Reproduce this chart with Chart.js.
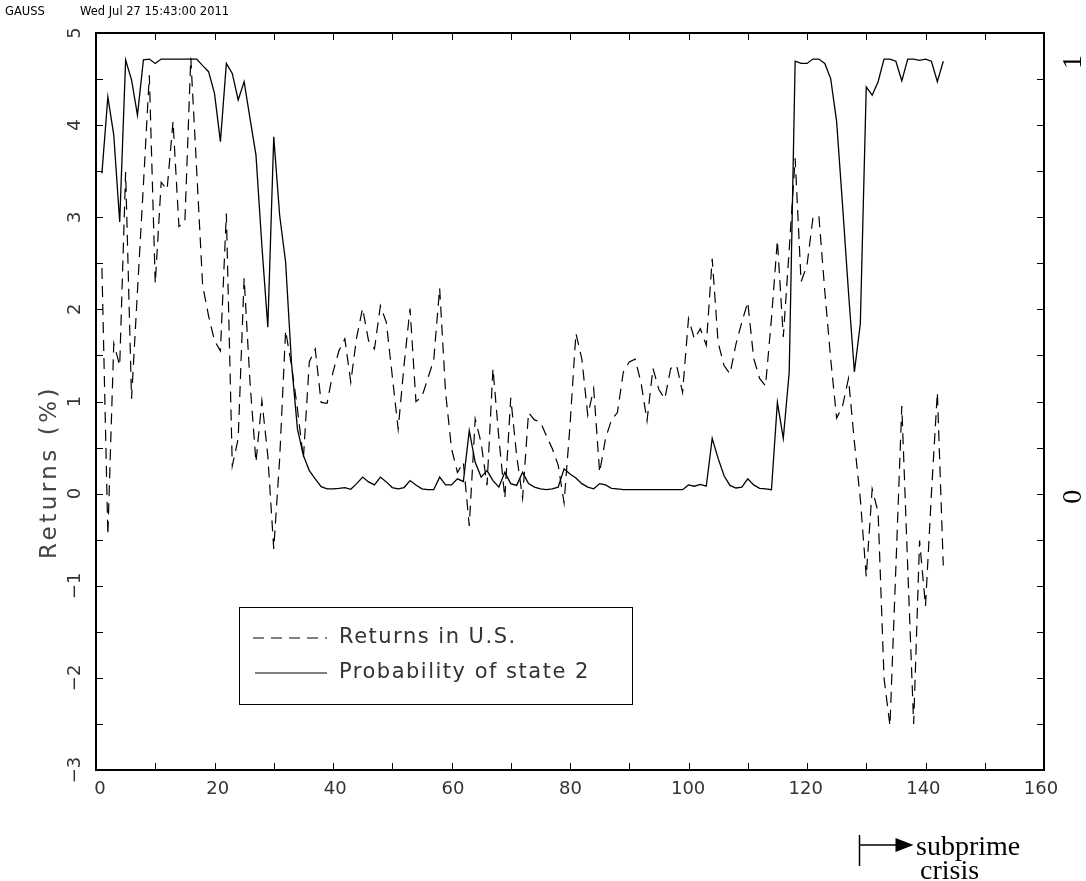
<!DOCTYPE html>
<html><head><meta charset="utf-8">
<script src="https://cdn.jsdelivr.net/npm/chart.js@4.4.1/dist/chart.umd.min.js"></script>
<style>html,body{margin:0;padding:0;background:#fff;}#wrap{position:relative;width:1086px;height:881px;}canvas{display:block;}</style>
</head><body><div id="wrap"><canvas id="c" width="1086" height="881"></canvas></div>
<script>
// ---- data ----
const returnsUS = [
 2.45,-0.45,1.63,1.39,3.49,1.03,2.2,3.35,4.54,2.28,
 3.38,3.3,4.04,2.9,2.95,4.73,3.5,2.26,1.93,1.66,
 1.55,3.04,0.3,0.6,2.34,1.2,0.34,1.01,0.41,-0.6,
 0.38,1.77,1.39,0.92,0.38,1.43,1.57,0.99,0.98,1.32,
 1.55,1.68,1.21,1.7,2.01,1.66,1.57,2.04,1.86,1.28,
 0.7,1.4,2.01,1.0,1.05,1.25,1.45,2.23,1.1,0.49,
 0.23,0.34,-0.35,0.81,0.55,0.09,1.36,0.6,-0.05,1.04,
 0.41,-0.05,0.88,0.8,0.78,0.63,0.49,0.31,-0.1,0.74,
 1.74,1.46,0.85,1.14,0.23,0.6,0.8,0.88,1.32,1.43,
 1.46,1.2,0.79,1.36,1.13,1.03,1.36,1.39,1.1,1.9,
 1.68,1.79,1.61,2.55,1.64,1.39,1.3,1.62,1.86,2.08,
 1.47,1.25,1.17,1.9,2.75,1.7,2.65,3.64,2.3,2.48,
 2.99,3.02,2.2,1.46,0.82,0.95,1.25,0.56,-0.06,-0.9,
 0.05,-0.2,-2.0,-2.52,-0.8,0.95,-0.8,-2.5,-0.51,-1.22,
 0.0,1.1,-0.78
];
const probState2 = [
 .737,.913,.825,.625,.998,.952,.871,.998,1,.99,
 1,1,1,1,1,1,1,.985,.971,.921,
 .81,.99,.967,.906,.948,.863,.779,.57,.383,.821,
 .64,.533,.3,.149,.088,.053,.034,.016,.011,.011,
 .012,.014,.01,.023,.038,.027,.02,.038,.027,.014,
 .011,.014,.03,.02,.011,.009,.009,.038,.02,.02,
 .034,.028,.145,.072,.038,.053,.03,.015,.049,.023,
 .019,.049,.023,.015,.011,.009,.011,.015,.057,.045,
 .036,.023,.015,.011,.023,.02,.012,.011,.009,.009,
 .009,.009,.009,.009,.009,.009,.009,.009,.009,.02,
 .017,.021,.017,.127,.081,.041,.019,.013,.015,.034,
 .02,.012,.011,.009,.21,.127,.28,.995,.99,.99,
 1,1,.99,.955,.856,.664,.464,.28,.391,.936,
 .917,.948,1,1,.995,.95,1,1,.997,1,
 .995,.948,.995
];
const xTicks = [0,20,40,60,80,100,120,140,160];
const yTicks = [-3,-2,-1,0,1,2,3,4,5];
const probTicks = [0,1];
const seriesNames = ['Returns in U.S.', 'Probability of state 2'];
const yTitle = 'Returns (%)';
const headerText = ['GAUSS', 'Wed Jul 27 15:43:00 2011'];
const noteText = ['subprime', 'crisis'];
const crisisStart = 128.7;

// probability 1 sits at this height of the returns axis
const probTop = 4.717;

const decor = {
  id: 'decor',
  afterDatasetsDraw(chart) {
    const ctx = chart.ctx;
    const a = chart.chartArea;
    const xs = chart.scales.x, ys = chart.scales.y, y2 = chart.scales.y2;
    ctx.save();
    ctx.strokeStyle = '#000';
    ctx.fillStyle = '#000';
    // frame
    ctx.lineWidth = 2;
    ctx.strokeRect(a.left, a.top, a.right - a.left, a.bottom - a.top);
    // ticks
    ctx.lineWidth = 1;
    ctx.beginPath();
    for (let v = -3; v <= 5.001; v += 0.5) {
      const y = Math.round(ys.getPixelForValue(v)) + 0.5;
      ctx.moveTo(a.left, y); ctx.lineTo(a.left + 7, y);
      ctx.moveTo(a.right, y); ctx.lineTo(a.right - 7, y);
    }
    for (let v = 10; v < 160; v += 10) {
      const x = Math.round(xs.getPixelForValue(v)) + 0.5;
      ctx.moveTo(x, a.top); ctx.lineTo(x, a.top + 7);
      ctx.moveTo(x, a.bottom); ctx.lineTo(x, a.bottom - 7);
    }
    ctx.stroke();

    // x tick labels (GAUSS places them slightly inward of the tick)
    ctx.fillStyle = '#333';
    ctx.font = '18px "DejaVu Sans"';
    ctx.textAlign = 'center';
    ctx.textBaseline = 'middle';
    xTicks.forEach(v => ctx.fillText(String(v), xs.getPixelForValue(v) + 4 - 7 * v / 160, a.bottom + 19));
    // y tick labels (rotated)
    yTicks.forEach(v => {
      ctx.save();
      ctx.translate(a.left - 21, ys.getPixelForValue(v));
      ctx.rotate(-Math.PI / 2);
      ctx.fillText(v < 0 ? '\u2212' + Math.abs(v) : String(v), 0, 0);
      ctx.restore();
    });
    // y title
    ctx.save();
    ctx.font = '23px "DejaVu Sans"';
    ctx.fillStyle = '#444';
    try { ctx.letterSpacing = '3.5px'; } catch (e) {}
    ctx.translate(50, 472);
    ctx.rotate(-Math.PI / 2);
    ctx.fillText(yTitle, 0, 0);
    ctx.restore();
    // right axis labels (serif, rotated)
    ctx.fillStyle = '#000';
    ctx.font = '28px "Liberation Serif"';
    probTicks.forEach(v => {
      ctx.save();
      ctx.translate(a.right + 30, y2.getPixelForValue(v) + 3);
      ctx.rotate(-Math.PI / 2);
      ctx.fillText(String(v), 0, 0);
      ctx.restore();
    });

    // legend box
    const lx = 239, ly = 607, lw = 393, lh = 97;
    ctx.lineWidth = 1;
    ctx.strokeStyle = '#000';
    ctx.strokeRect(lx + 0.5, ly + 0.5, lw, lh);
    ctx.beginPath();
    ctx.setLineDash([11, 7]);
    ctx.moveTo(253, 638); ctx.lineTo(327, 638);
    ctx.stroke();
    ctx.setLineDash([]);
    ctx.beginPath();
    ctx.moveTo(255, 673); ctx.lineTo(327, 673);
    ctx.stroke();
    ctx.save();
    ctx.fillStyle = '#333';
    ctx.font = '21px "DejaVu Sans"';
    try { ctx.letterSpacing = '1.5px'; } catch (e) {}
    ctx.textAlign = 'left';
    ctx.fillText(seriesNames[0], 339, 638);
    ctx.fillText(seriesNames[1], 339, 673);
    ctx.restore();

    // header
    ctx.fillStyle = '#000';
    ctx.font = '11.5px "DejaVu Sans"';
    ctx.textAlign = 'left';
    ctx.fillText(headerText[0], 5, 12);
    ctx.fillText(headerText[1], 80, 12);

    // crisis note
    const cx = Math.round(xs.getPixelForValue(crisisStart)) + 0.5;
    ctx.lineWidth = 1.5;
    ctx.beginPath();
    ctx.moveTo(cx, 835); ctx.lineTo(cx, 866);
    ctx.moveTo(cx, 845); ctx.lineTo(cx + 38, 845);
    ctx.stroke();
    ctx.beginPath();
    ctx.moveTo(cx + 54, 845); ctx.lineTo(cx + 36, 838); ctx.lineTo(cx + 36, 852); ctx.closePath();
    ctx.fill();
    ctx.font = '28px "Liberation Serif"';
    ctx.textBaseline = 'alphabetic';
    ctx.fillText(noteText[0], 916, 855);
    ctx.fillText(noteText[1], 920, 879);
    ctx.restore();
  }
};

const ctx = document.getElementById('c').getContext('2d');
new Chart(ctx, {
  type: 'line',
  data: {
    datasets: [
      { label: seriesNames[0], data: returnsUS.map((v, i) => ({ x: i + 1, y: v })), yAxisID: 'y',
        borderColor: '#000', borderWidth: 1.2, borderDash: [11, 7], pointRadius: 0, tension: 0, fill: false },
      { label: seriesNames[1], data: probState2.map((v, i) => ({ x: i + 1, y: v })), yAxisID: 'y2',
        borderColor: '#000', borderWidth: 1.3, pointRadius: 0, tension: 0, fill: false }
    ]
  },
  options: {
    responsive: false, animation: false, devicePixelRatio: 1,
    layout: { padding: { left: 96, right: 42, top: 33, bottom: 111 } },
    plugins: { legend: { display: false }, tooltip: { enabled: false } },
    scales: {
      x: { type: 'linear', min: 0, max: 160, display: false },
      y: { min: -3, max: 5, display: false },
      y2: { min: -3 / probTop, max: 5 / probTop, display: false }
    }
  },
  plugins: [decor]
});
</script>
</body></html>
